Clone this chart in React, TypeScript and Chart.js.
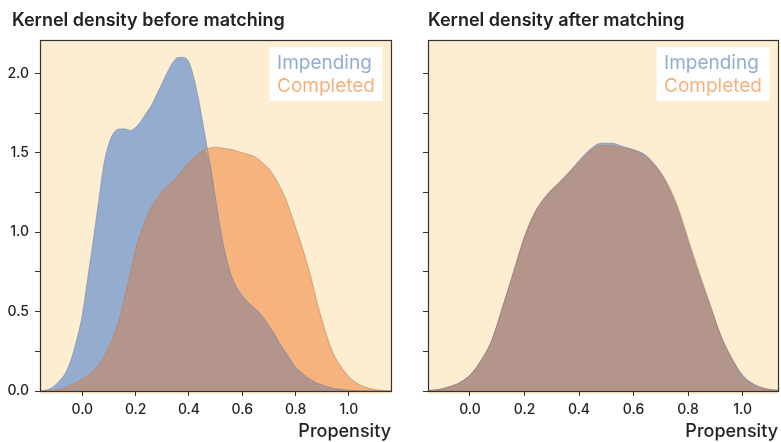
import React, { useEffect, useRef } from 'react';
import { Chart, registerables } from 'chart.js';

Chart.register(...registerables);

// ---- data ----
// propensity grid for the "before matching" panel (step 0.02)
const gridBefore = [
  -0.16, -0.14, -0.12, -0.1, -0.08, -0.06, -0.04, -0.02, 0.0, 0.02, 0.04, 0.06, 0.08, 0.1, 0.12, 0.14, 0.16,
  0.18, 0.2, 0.22, 0.24, 0.26, 0.28, 0.3, 0.32, 0.34, 0.36, 0.38, 0.4, 0.42, 0.44, 0.46, 0.48, 0.5, 0.52,
  0.54, 0.56, 0.58, 0.6, 0.62, 0.64, 0.66, 0.68, 0.7, 0.72, 0.74, 0.76, 0.78, 0.8, 0.82, 0.84, 0.86, 0.88,
  0.9, 0.92, 0.94, 0.96, 0.98, 1.0, 1.02, 1.04, 1.06, 1.08, 1.1, 1.12, 1.14, 1.16,
];
const impendingBefore = [
  0.0, 0.004, 0.016, 0.04, 0.075, 0.125, 0.21, 0.33, 0.48, 0.71, 0.94, 1.18, 1.42, 1.56, 1.63, 1.65, 1.65,
  1.64, 1.66, 1.7, 1.75, 1.8, 1.87, 1.94, 2.01, 2.07, 2.1, 2.1, 2.07, 1.96, 1.8, 1.61, 1.42, 1.21, 1.0,
  0.84, 0.72, 0.65, 0.6, 0.56, 0.53, 0.5, 0.46, 0.41, 0.36, 0.3, 0.25, 0.2, 0.15, 0.12, 0.09, 0.07, 0.05,
  0.037, 0.026, 0.018, 0.012, 0.008, 0.005, 0.003, 0.002, 0.001, 0.0, 0.0, 0.0, 0.0, 0.0,
];
const completedBefore = [
  0.0, 0.002, 0.004, 0.007, 0.012, 0.025, 0.04, 0.055, 0.075, 0.095, 0.125, 0.16, 0.21, 0.28, 0.36, 0.46, 0.6,
  0.74, 0.89, 1.0, 1.09, 1.16, 1.21, 1.26, 1.29, 1.32, 1.36, 1.4, 1.44, 1.47, 1.5, 1.52, 1.53, 1.535, 1.53,
  1.525, 1.52, 1.51, 1.5, 1.49, 1.48, 1.46, 1.43, 1.4, 1.35, 1.29, 1.22, 1.13, 1.03, 0.93, 0.82, 0.7, 0.56,
  0.44, 0.33, 0.24, 0.18, 0.13, 0.09, 0.06, 0.04, 0.025, 0.015, 0.008, 0.005, 0.002, 0.0,
];
// propensity grid for the "after matching" panel (step 0.04)
const gridAfter = [
  -0.16, -0.12, -0.08, -0.04, 0.0, 0.04, 0.08, 0.12, 0.16, 0.2, 0.24, 0.28, 0.32, 0.36, 0.4, 0.44, 0.48,
  0.52, 0.56, 0.6, 0.64, 0.68, 0.72, 0.76, 0.8, 0.84, 0.88, 0.92, 0.96, 1.0, 1.04, 1.08, 1.12, 1.16,
];
const impendingAfter = [
  0.002, 0.008, 0.024, 0.05, 0.1, 0.19, 0.32, 0.53, 0.75, 0.97, 1.13, 1.23, 1.3, 1.37, 1.45, 1.52, 1.56,
  1.56, 1.54, 1.52, 1.49, 1.42, 1.31, 1.15, 0.94, 0.73, 0.54, 0.35, 0.21, 0.1, 0.045, 0.017, 0.006, 0.001,
];
const completedAfter = [
  0.002, 0.008, 0.025, 0.05, 0.1, 0.19, 0.32, 0.53, 0.75, 0.97, 1.13, 1.23, 1.3, 1.37, 1.44, 1.51, 1.545,
  1.545, 1.53, 1.515, 1.48, 1.42, 1.32, 1.17, 0.96, 0.75, 0.55, 0.35, 0.2, 0.09, 0.04, 0.015, 0.005, 0.001,
];
const seriesLabels = ['Impending', 'Completed'];
const panelTitles = ['Kernel density before matching', 'Kernel density after matching'];
const xAxisTitle = 'Propensity';
const xTickValues = [0.0, 0.2, 0.4, 0.6, 0.8, 1.0];
const yTickValues = [0.0, 0.25, 0.5, 0.75, 1.0, 1.25, 1.5, 1.75, 2.0];
const xRangeBefore = [-0.159, 1.158];
const xRangeAfter = [-0.154, 1.13];
const yRange = [0, 2.21];

// ---- styles ----
const BG = '#fdeed1';
const BLUE = '#94acce';
const ORANGE = '#f6b37e';
const OVERLAP = '#b3958b';
const BLUE_TEXT = '#93acd2';
const ORANGE_TEXT = '#f8b07b';
const INK = '#222222';
const FONT = 'Inter, "Liberation Sans", Arial, sans-serif';

type PanelProps = {
  title: string;
  grid: number[];
  impending: number[];
  completed: number[];
  xRange: number[];
  showYLabels: boolean;
  width: number;
  padLeft: number;
  padRight: number;
  yAxisWidth: number;
};

function Panel(props: PanelProps) {
  const ref = useRef<HTMLCanvasElement | null>(null);
  useEffect(() => {
    if (!ref.current) return;
    const pts = (arr: number[]) => props.grid.map((x, i) => ({ x, y: arr[i] }));
    const overlap = props.grid.map((x, i) => ({ x, y: Math.min(props.impending[i], props.completed[i]) }));

    const decor = {
      id: 'decor',
      beforeDraw(chart: any) {
        const { ctx, chartArea: a } = chart;
        ctx.save();
        ctx.fillStyle = BG;
        ctx.fillRect(a.left, a.top, a.right - a.left, a.bottom - a.top + 3);
        ctx.restore();
      },
      afterDatasetsDraw(chart: any) {
        const { ctx, chartArea: a } = chart;
        ctx.save();
        ctx.strokeStyle = '#333333';
        ctx.lineWidth = 1.2;
        ctx.strokeRect(Math.round(a.left) + 0.5, Math.round(a.top) + 0.5, Math.round(a.right - a.left), Math.round(a.bottom - a.top));
        ctx.restore();
      },
      afterDraw(chart: any) {
        const { ctx, chartArea: a } = chart;
        ctx.save();
        // title
        ctx.fillStyle = INK;
        ctx.font = `600 18px ${FONT}`;
        ctx.textBaseline = 'middle';
        ctx.textAlign = 'left';
        ctx.fillText(props.title, props.showYLabels ? 12 : a.left, 21);
        // legend
        ctx.font = `400 19px ${FONT}`;
        const w = Math.max(...seriesLabels.map((s) => ctx.measureText(s).width));
        const boxW = w + 15;
        const boxX = a.right - 8.5 - boxW;
        const boxY = a.top + 7;
        ctx.fillStyle = '#ffffff';
        ctx.fillRect(boxX, boxY, boxW, 54);
        const colors = [BLUE_TEXT, ORANGE_TEXT];
        seriesLabels.forEach((s, i) => {
          ctx.fillStyle = colors[i];
          ctx.fillText(s, boxX + 7.5, boxY + 16 + i * 23.5);
        });
        ctx.restore();
      },
    };

    const chart = new Chart(ref.current, {
      type: 'line',
      data: {
        datasets: [
          {
            label: 'overlap',
            data: overlap,
            backgroundColor: OVERLAP,
            borderWidth: 0,
            fill: 'origin',
            order: 0,
          },
          {
            label: seriesLabels[1],
            data: pts(props.completed),
            backgroundColor: ORANGE,
            borderColor: 'rgba(175,120,95,0.55)',
            borderWidth: 1,
            fill: 'origin',
            order: 1,
          },
          {
            label: seriesLabels[0],
            data: pts(props.impending),
            backgroundColor: BLUE,
            borderColor: 'rgba(110,130,165,0.55)',
            borderWidth: 1,
            fill: 'origin',
            order: 2,
          },
        ],
      },
      options: {
        responsive: false,
        animation: false,
        events: [],
        layout: { padding: { left: props.padLeft, right: props.padRight, top: 40, bottom: 0 } },
        elements: {
          point: { radius: 0 },
          line: { cubicInterpolationMode: 'monotone' },
        },
        plugins: {
          legend: { display: false },
          tooltip: { enabled: false },
          filler: { drawTime: 'beforeDatasetsDraw' },
        } as any,
        scales: {
          x: {
            type: 'linear',
            min: props.xRange[0],
            max: props.xRange[1],
            border: { display: false },
            grid: { display: true, drawOnChartArea: false, drawTicks: true, tickLength: 5, color: '#333333', lineWidth: 1 },
            afterBuildTicks: (scale: any) => {
              scale.ticks = xTickValues.map((v) => ({ value: v }));
            },
            afterFit: (scale: any) => {
              scale.height = 51;
            },
            ticks: {
              padding: 5,
              color: INK,
              font: { family: FONT, size: 14, weight: '500' },
              callback: (v: any) => Number(v).toFixed(1),
            },
            title: {
              display: true,
              text: xAxisTitle,
              align: 'end',
              color: INK,
              font: { family: FONT, size: 18, weight: '500' },
              padding: { top: 0, bottom: 0 },
            },
          },
          y: {
            type: 'linear',
            min: yRange[0],
            max: yRange[1],
            border: { display: false },
            grid: { display: true, drawOnChartArea: false, drawTicks: true, tickLength: 5, color: '#333333', lineWidth: 1 },
            afterBuildTicks: (scale: any) => {
              scale.ticks = yTickValues.map((v) => ({ value: v }));
            },
            afterFit: (scale: any) => {
              scale.width = props.yAxisWidth;
            },
            ticks: {
              padding: 6,
              color: INK,
              font: { family: FONT, size: 14, weight: '500' },
              callback: (v: any) => {
                const n = Number(v);
                if (!props.showYLabels) return '';
                return Math.abs(n * 2 - Math.round(n * 2)) < 1e-6 ? n.toFixed(1) : '';
              },
            },
          },
        },
      } as any,
      plugins: [decor],
    });
    return () => chart.destroy();
  }, []);
  return <canvas ref={ref} width={props.width} height={442} style={{ display: 'block' }} />;
}

export default function App() {
  return (
    <div
      style={{
        position: 'absolute',
        left: 0,
        top: 0,
        width: 781,
        height: 442,
        display: 'flex',
        background: '#ffffff',
      }}
    >
      <Panel
        title={panelTitles[0]}
        grid={gridBefore}
        impending={impendingBefore}
        completed={completedBefore}
        xRange={xRangeBefore}
        showYLabels={true}
        width={395}
        padLeft={0}
        padRight={4}
        yAxisWidth={40}
      />
      <Panel
        title={panelTitles[1]}
        grid={gridAfter}
        impending={impendingAfter}
        completed={completedAfter}
        xRange={xRangeAfter}
        showYLabels={false}
        width={386}
        padLeft={5}
        padRight={3}
        yAxisWidth={28}
      />
    </div>
  );
}
